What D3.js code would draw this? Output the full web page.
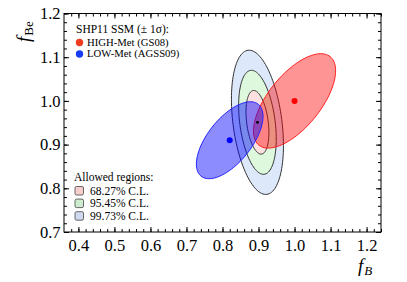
<!DOCTYPE html>
<html>
<head>
<meta charset="utf-8">
<script src="https://cdn.jsdelivr.net/npm/d3@7"></script>
<style>
  body { margin: 0; background: #fff; }
  text { font-family: "Liberation Serif", "DejaVu Serif", serif; }
</style>
</head>
<body>
<svg id="chart"></svg>
<script>
// Axis ranges and tick labels
const xDomain = [0.36, 1.24];
const yDomain = [0.7, 1.2];
const xTicks = [0.4, 0.5, 0.6, 0.7, 0.8, 0.9, 1.0, 1.1, 1.2];
const yTicks = [0.7, 0.8, 0.9, 1.0, 1.1, 1.2];

// Allowed regions (center at best fit), half-widths in data units and correlation
const clLabels = ['99.73% C.L.', '95.45% C.L.', '68.27% C.L.'];
const clHalfX = [0.0722, 0.0522, 0.0318];
const clHalfY = [0.165, 0.119, 0.0728];
const clRho = [-0.32, -0.32, -0.32];
const bestFit = [0.897, 0.951];

// SSM predictions (±1 sigma)
const ssmNames = ['HIGH-Met (GS08)', 'LOW-Met (AGSS09)'];
const ssmCenterX = [1.0, 0.82];
const ssmCenterY = [1.0, 0.91];
const ssmHalfX = [0.114, 0.0925];
const ssmHalfY = [0.108, 0.088];
const ssmRho = [0.64, 0.62];

const W = 407, H = 282;
const margin = { top: 13.5, right: 26, bottom: 50, left: 64 };
const width = W - margin.left - margin.right;
const height = H - margin.top - margin.bottom;

const svg = d3.select('#chart').attr('width', W).attr('height', H);
const g = svg.append('g').attr('transform', `translate(${margin.left},${margin.top})`);

const x = d3.scaleLinear().domain(xDomain).range([0, width]);
const y = d3.scaleLinear().domain(yDomain).range([height, 0]);

// ellipse outline from center, half extents and correlation
function ellipsePath(cx, cy, hx, hy, rho) {
    const pts = d3.range(0, 361, 3).map(a => {
        const t = a * Math.PI / 180;
        return [x(cx + hx * Math.cos(t)),
                y(cy + hy * (rho * Math.cos(t) + Math.sqrt(1 - rho * rho) * Math.sin(t)))];
    });
    return d3.line()(pts) + 'Z';
}

const clFill = ['#dde9fb', '#ddf8dd', '#fde0e0'];
clLabels.forEach((lab, i) => {
    g.append('path')
        .attr('d', ellipsePath(bestFit[0], bestFit[1], clHalfX[i], clHalfY[i], clRho[i]))
        .attr('fill', clFill[i])
        .attr('stroke', '#333')
        .attr('stroke-width', 1);
});

const ssmFill = ['rgba(255,0,0,0.42)', 'rgba(0,0,255,0.45)'];
const ssmStroke = ['#ff2020', '#2020ff'];
ssmNames.forEach((n, i) => {
    g.append('path')
        .attr('d', ellipsePath(ssmCenterX[i], ssmCenterY[i], ssmHalfX[i], ssmHalfY[i], ssmRho[i]))
        .attr('fill', ssmFill[i])
        .attr('stroke', ssmStroke[i])
        .attr('stroke-width', 1);
});
ssmNames.forEach((n, i) => {
    g.append('circle')
        .attr('cx', x(ssmCenterX[i])).attr('cy', y(ssmCenterY[i]))
        .attr('r', 3).attr('fill', i === 0 ? '#ff0000' : '#0000ff');
});
g.append('circle')
    .attr('cx', x(bestFit[0])).attr('cy', y(bestFit[1]))
    .attr('r', 1.4).attr('fill', '#000');

// axes: inner ticks on all four sides, minor every 0.02
const minorX = d3.range(0.38, 1.2401, 0.02);
const minorY = d3.range(0.7, 1.2001, 0.02);

function styleAxis(sel) {
    sel.select('.domain').remove();
    sel.selectAll('line').attr('stroke', '#000');
}

g.append('g').attr('transform', `translate(0,${height})`)
    .call(d3.axisBottom(x).tickValues(minorX).tickSize(-3).tickFormat(''))
    .call(styleAxis);
g.append('g').attr('transform', `translate(0,${height})`)
    .call(d3.axisBottom(x).tickValues(xTicks).tickSize(-5).tickPadding(7).tickFormat(d3.format('.1f')))
    .call(styleAxis)
    .selectAll('text').attr('font-size', 16.5).attr('fill', '#000')
    .style('font-family', '"Liberation Serif", serif');
g.append('g')
    .call(d3.axisTop(x).tickValues(minorX).tickSize(-3).tickFormat(''))
    .call(styleAxis);
g.append('g')
    .call(d3.axisTop(x).tickValues(xTicks).tickSize(-5).tickFormat(''))
    .call(styleAxis);

g.append('g')
    .call(d3.axisLeft(y).tickValues(minorY).tickSize(-3).tickFormat(''))
    .call(styleAxis);
g.append('g')
    .call(d3.axisLeft(y).tickValues(yTicks).tickSize(-5).tickPadding(3.5).tickFormat(d3.format('.1f')))
    .call(styleAxis)
    .selectAll('text').attr('font-size', 16.5).attr('fill', '#000')
    .style('font-family', '"Liberation Serif", serif');
g.append('g').attr('transform', `translate(${width},0)`)
    .call(d3.axisRight(y).tickValues(minorY).tickSize(-3).tickFormat(''))
    .call(styleAxis);
g.append('g').attr('transform', `translate(${width},0)`)
    .call(d3.axisRight(y).tickValues(yTicks).tickSize(-5).tickFormat(''))
    .call(styleAxis);

g.append('rect')
    .attr('width', width).attr('height', height)
    .attr('fill', 'none').attr('stroke', '#000').attr('stroke-width', 1);

// axis titles
const yt = svg.append('text')
    .attr('transform', 'translate(30,42) rotate(-90)')
    .attr('fill', '#000');
yt.append('tspan').attr('font-style', 'italic').attr('font-size', 19).text('f');
yt.append('tspan').attr('font-size', 13).attr('dy', 3).attr('dx', 1).text('Be');

const xt = svg.append('text')
    .attr('x', 358).attr('y', 272)
    .attr('fill', '#000');
xt.append('tspan').attr('font-style', 'italic').attr('font-size', 19).text('f');
xt.append('tspan').attr('font-style', 'italic').attr('font-size', 13).attr('dy', 3).attr('dx', 1).text('B');

// legend: SSM predictions
const lg = svg.append('g').attr('font-size', 11.5).attr('fill', '#000');
lg.append('text').attr('x', 76).attr('y', 32.5).text('SHP11 SSM (\u00b1 1\u03c3):');
const legDot = ['#f03c1e', '#1a3cf0'];
ssmNames.forEach((n, i) => {
    lg.append('circle').attr('cx', 79.5).attr('cy', 42.5 + i * 11.5).attr('r', 3.7).attr('fill', legDot[i]);
    lg.append('text').attr('x', 87).attr('y', 45.5 + i * 11.5).attr('font-size', 10.7).text(n);
});

// legend: allowed regions
lg.append('text').attr('x', 74).attr('y', 180.7).text('Allowed regions:');
const swatch = ['#f6cece', '#cdeccd', '#cfd9ef'];
clLabels.slice().reverse().forEach((lab, i) => {
    lg.append('rect')
        .attr('x', 75).attr('y', 186.5 + i * 12.6)
        .attr('width', 8.5).attr('height', 8.5).attr('rx', 1.5)
        .attr('fill', swatch[i]).attr('stroke', '#444').attr('stroke-width', 0.8);
    lg.append('text').attr('x', 90).attr('y', 194.5 + i * 12.6).text(lab);
});
</script>
</body>
</html>
